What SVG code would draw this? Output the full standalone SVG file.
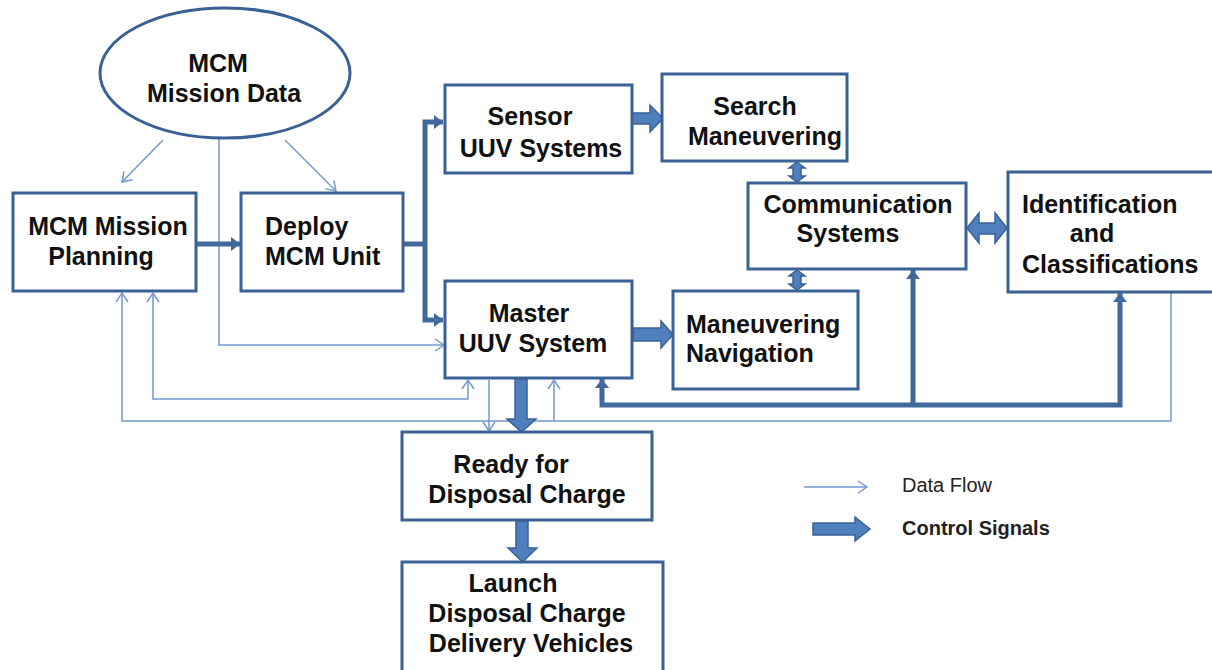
<svg xmlns="http://www.w3.org/2000/svg" width="1212" height="670" viewBox="0 0 1212 670">
<style>
.box{fill:#fff;stroke:#3a6194;stroke-width:3}
.t{font-family:"Liberation Sans",Arial,sans-serif;font-weight:bold;font-size:25px;fill:#111}
.c{text-anchor:middle}
.thin{fill:none;stroke:#7499cc;stroke-width:1.5}
.thick{fill:none;stroke:#41699e;stroke-width:5}
.fat{fill:#4f7fbd;stroke:#3a6194;stroke-width:1.5}
.leg{font-family:"Liberation Sans",Arial,sans-serif;font-size:20px;fill:#222}
</style>
<defs>
<marker id="open" markerUnits="userSpaceOnUse" markerWidth="12" markerHeight="14" refX="10" refY="7" orient="auto-start-reverse">
<path d="M1,1 L10,7 L1,13" fill="none" stroke="#7499cc" stroke-width="1.5"/>
</marker>
<marker id="head" markerUnits="userSpaceOnUse" markerWidth="10" markerHeight="16" refX="9" refY="8" orient="auto-start-reverse">
<path d="M0,1 L9,8 L0,15 z" fill="#41699e"/>
</marker>
</defs>
<rect width="1212" height="670" fill="#fff"/>

<g id="connectors">
<path class="thin" d="M163,140 L122,182" marker-end="url(#open)"/>
<path class="thin" d="M285,140 L336,191" marker-end="url(#open)"/>
<path class="thin" d="M219,139 V345 H444" marker-end="url(#open)"/>
<path class="thin" d="M468,380 V399 H153 V293" marker-start="url(#open)" marker-end="url(#open)"/>
<path class="thin" d="M489,380 V431" marker-end="url(#open)"/>
<path class="thin" d="M1171,293 V421 H122 V293" marker-end="url(#open)"/>
<path class="thin" d="M554,421 V380" marker-end="url(#open)"/>

<path class="thick" d="M197,244 H240" marker-end="url(#head)"/>
<path class="thick" d="M404,244 H425"/>
<path class="thick" d="M443,122 H425 V320 H443" marker-start="url(#head)" marker-end="url(#head)"/>
<path class="thick" d="M602,379 V405 H1120 V293" marker-start="url(#head)" marker-end="url(#head)"/>
<path class="thick" d="M913,405 V270" marker-end="url(#head)"/>

<polygon class="fat" points="632,113 650,113 650,105 663,118.5 650,132 650,124 632,124"/>
<polygon class="fat" points="633,328 661,328 661,321 673,334.5 661,348 661,341 633,341"/>
<polygon class="fat" points="515,379 527,379 527,419 536,419 521.5,432 507,419 515,419"/>
<polygon class="fat" points="516,521 528,521 528,548 537,548 522.5,562 508,548 516,548"/>
<polygon class="fat" points="967,228 979,213 979,223 995,223 995,213 1007,228 995,243 995,234 979,234 979,243"/>
<polygon class="fat" points="797,162 805,168 801,168 801,176 805,176 797,182 789,176 793,176 793,168 789,168"/>
<polygon class="fat" points="797,270 805,276 801,276 801,284 805,284 797,290 789,284 793,284 793,276 789,276"/>
</g>

<g id="n_data">
<ellipse cx="225" cy="73" rx="125" ry="65" fill="#fff" stroke="#3a6194" stroke-width="3"/>
<text class="t c" x="218" y="72">MCM</text>
<text class="t c" x="224" y="102">Mission Data</text>
</g>
<g id="n_planning">
<rect class="box" x="13" y="193" width="183" height="98"/>
<text class="t c" x="108" y="235">MCM Mission</text>
<text class="t c" x="101" y="265">Planning</text>
</g>
<g id="n_deploy">
<rect class="box" x="241" y="193" width="162" height="98"/>
<text class="t" x="265" y="235">Deploy</text>
<text class="t" x="265" y="265">MCM Unit</text>
</g>
<g id="n_sensor">
<rect class="box" x="445" y="85" width="187" height="88"/>
<text class="t c" x="530" y="125">Sensor</text>
<text class="t c" x="541" y="157">UUV Systems</text>
</g>
<g id="n_search">
<rect class="box" x="662" y="74" width="185" height="87"/>
<text class="t c" x="755" y="115">Search</text>
<text class="t c" x="765" y="145">Maneuvering</text>
</g>
<g id="n_comm">
<rect class="box" x="748" y="183" width="218" height="86"/>
<text class="t c" x="858" y="213">Communication</text>
<text class="t c" x="848" y="242">Systems</text>
</g>
<g id="n_ident">
<rect class="box" x="1008" y="172" width="214" height="120"/>
<text class="t" x="1022" y="213">Identification</text>
<text class="t c" x="1092" y="242">and</text>
<text class="t" x="1022" y="273">Classifications</text>
</g>
<g id="n_master">
<rect class="box" x="445" y="281" width="187" height="97"/>
<text class="t c" x="529" y="322">Master</text>
<text class="t c" x="533" y="352">UUV System</text>
</g>
<g id="n_nav">
<rect class="box" x="673" y="291" width="185" height="98"/>
<text class="t" x="686" y="333">Maneuvering</text>
<text class="t" x="686" y="362">Navigation</text>
</g>
<g id="n_ready">
<rect class="box" x="402" y="432" width="250" height="88"/>
<text class="t c" x="511" y="473">Ready for</text>
<text class="t c" x="527" y="503">Disposal Charge</text>
</g>
<g id="n_launch">
<rect class="box" x="402" y="562" width="261" height="115"/>
<text class="t c" x="513" y="592">Launch</text>
<text class="t c" x="527" y="622">Disposal Charge</text>
<text class="t c" x="531" y="652">Delivery Vehicles</text>
</g>

<g id="legend">
<path class="thin" d="M804,487 H867" marker-end="url(#open)"/>
<text class="leg" x="902" y="492">Data Flow</text>
<polygon class="fat" points="813,523 855,523 855,517 870,529 855,541 855,535 813,535"/>
<text class="leg" x="902" y="535" font-weight="bold">Control Signals</text>
</g>
</svg>
